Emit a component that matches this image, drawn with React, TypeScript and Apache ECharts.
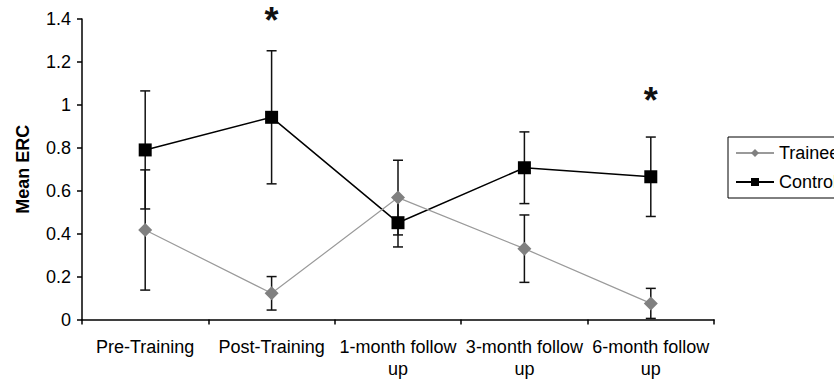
import React, { useEffect, useRef } from "react";
import * as echarts from "echarts";

const categories = [
  "Pre-Training",
  "Post-Training",
  "1-month follow up",
  "3-month follow up",
  "6-month follow up",
];
const traineeMean = [0.417, 0.122, 0.568, 0.33, 0.075];
const traineeErr = [0.28, 0.078, 0.174, 0.157, 0.07];
const controlMean = [0.79, 0.942, 0.451, 0.707, 0.665];
const controlErr = [0.275, 0.31, 0.113, 0.167, 0.185];
const sigCategoryIndex = [1, 4];
const sigY = [1.392, 1.02];

const FONT = "'Liberation Sans', Arial, sans-serif";

export default function App() {
  const ref = useRef<HTMLDivElement>(null);
  useEffect(() => {
    if (!ref.current) return;
    const chart = echarts.init(ref.current, undefined, { renderer: "svg" });
    const errData = [
      ...traineeMean.map((m, i) => [i, m - traineeErr[i], m + traineeErr[i]]),
      ...controlMean.map((m, i) => [i, m - controlErr[i], m + controlErr[i]]),
    ];
    const sigData = sigCategoryIndex.map((c, i) => [c, sigY[i]]);
    chart.setOption({
      animation: false,
      backgroundColor: "#ffffff",
      textStyle: { fontFamily: FONT },
      grid: { left: 82, right: 120, top: 19, bottom: 63.5, containLabel: false },
      legend: {
        data: ["Trainee", "Control"],
        orient: "vertical",
        left: 728,
        top: 137,
        borderColor: "#000",
        borderWidth: 1,
        padding: [7, 6, 7, 7],
        itemWidth: 38,
        itemHeight: 10,
        itemGap: 11,
        textStyle: { fontSize: 18, color: "#000", fontFamily: FONT },
      },
      xAxis: {
        type: "category",
        data: categories,
        boundaryGap: true,
        axisLine: { lineStyle: { color: "#000", width: 1.5 } },
        axisTick: { show: true, length: 5, alignWithLabel: false, lineStyle: { color: "#000", width: 1.5 } },
        axisLabel: {
          color: "#000",
          fontSize: 18,
          fontFamily: FONT,
          margin: 16,
          lineHeight: 22,
          interval: 0,
          formatter: (v: string) => v.replace(" follow up", " follow\nup"),
        },
      },
      yAxis: {
        type: "value",
        min: 0,
        max: 1.4,
        interval: 0.2,
        name: "Mean ERC",
        nameLocation: "middle",
        nameGap: 50,
        nameTextStyle: { fontSize: 18, fontWeight: "bold", color: "#000", fontFamily: FONT },
        axisLine: { show: true, lineStyle: { color: "#000", width: 1.5 } },
        axisTick: { show: true, length: 5, lineStyle: { color: "#000", width: 1.5 } },
        axisLabel: { color: "#000", fontSize: 18, fontFamily: FONT, margin: 11 },
        splitLine: { show: false },
      },
      series: [
        {
          type: "custom",
          name: "errors",
          z: 1,
          silent: true,
          encode: { x: 0, y: [1, 2] },
          data: errData,
          renderItem: (_params: any, api: any) => {
            const x = api.value(0);
            const lo = api.coord([x, api.value(1)]);
            const hi = api.coord([x, api.value(2)]);
            const hw = 5;
            const style = { stroke: "#111", lineWidth: 1.5 };
            return {
              type: "group",
              children: [
                { type: "line", shape: { x1: lo[0], y1: lo[1], x2: hi[0], y2: hi[1] }, style },
                { type: "line", shape: { x1: lo[0] - hw, y1: lo[1], x2: lo[0] + hw, y2: lo[1] }, style },
                { type: "line", shape: { x1: hi[0] - hw, y1: hi[1], x2: hi[0] + hw, y2: hi[1] }, style },
              ],
            };
          },
        },
        {
          type: "line",
          name: "Control",
          z: 3,
          data: controlMean,
          symbol: "rect",
          symbolSize: 13,
          lineStyle: { color: "#000", width: 1.5 },
          itemStyle: { color: "#000" },
        },
        {
          type: "line",
          name: "Trainee",
          z: 4,
          data: traineeMean,
          symbol: "diamond",
          symbolSize: 14,
          lineStyle: { color: "#9a9a9a", width: 1.2 },
          itemStyle: { color: "#808080" },
        },
        {
          type: "custom",
          name: "sig",
          z: 5,
          silent: true,
          clip: false,
          encode: { x: 0, y: 1 },
          data: sigData,
          renderItem: (_params: any, api: any) => {
            const p = api.coord([api.value(0), api.value(1)]);
            return {
              type: "text",
              x: p[0],
              y: p[1],
              style: {
                text: "*",
                fill: "#111",
                font: `bold 36px ${FONT}`,
                align: "center",
                verticalAlign: "middle",
              },
            };
          },
        },
      ],
    });
    return () => chart.dispose();
  }, []);
  return (
    <div
      ref={ref}
      style={{ position: "absolute", left: 0, top: 0, width: 834, height: 383 }}
    />
  );
}
